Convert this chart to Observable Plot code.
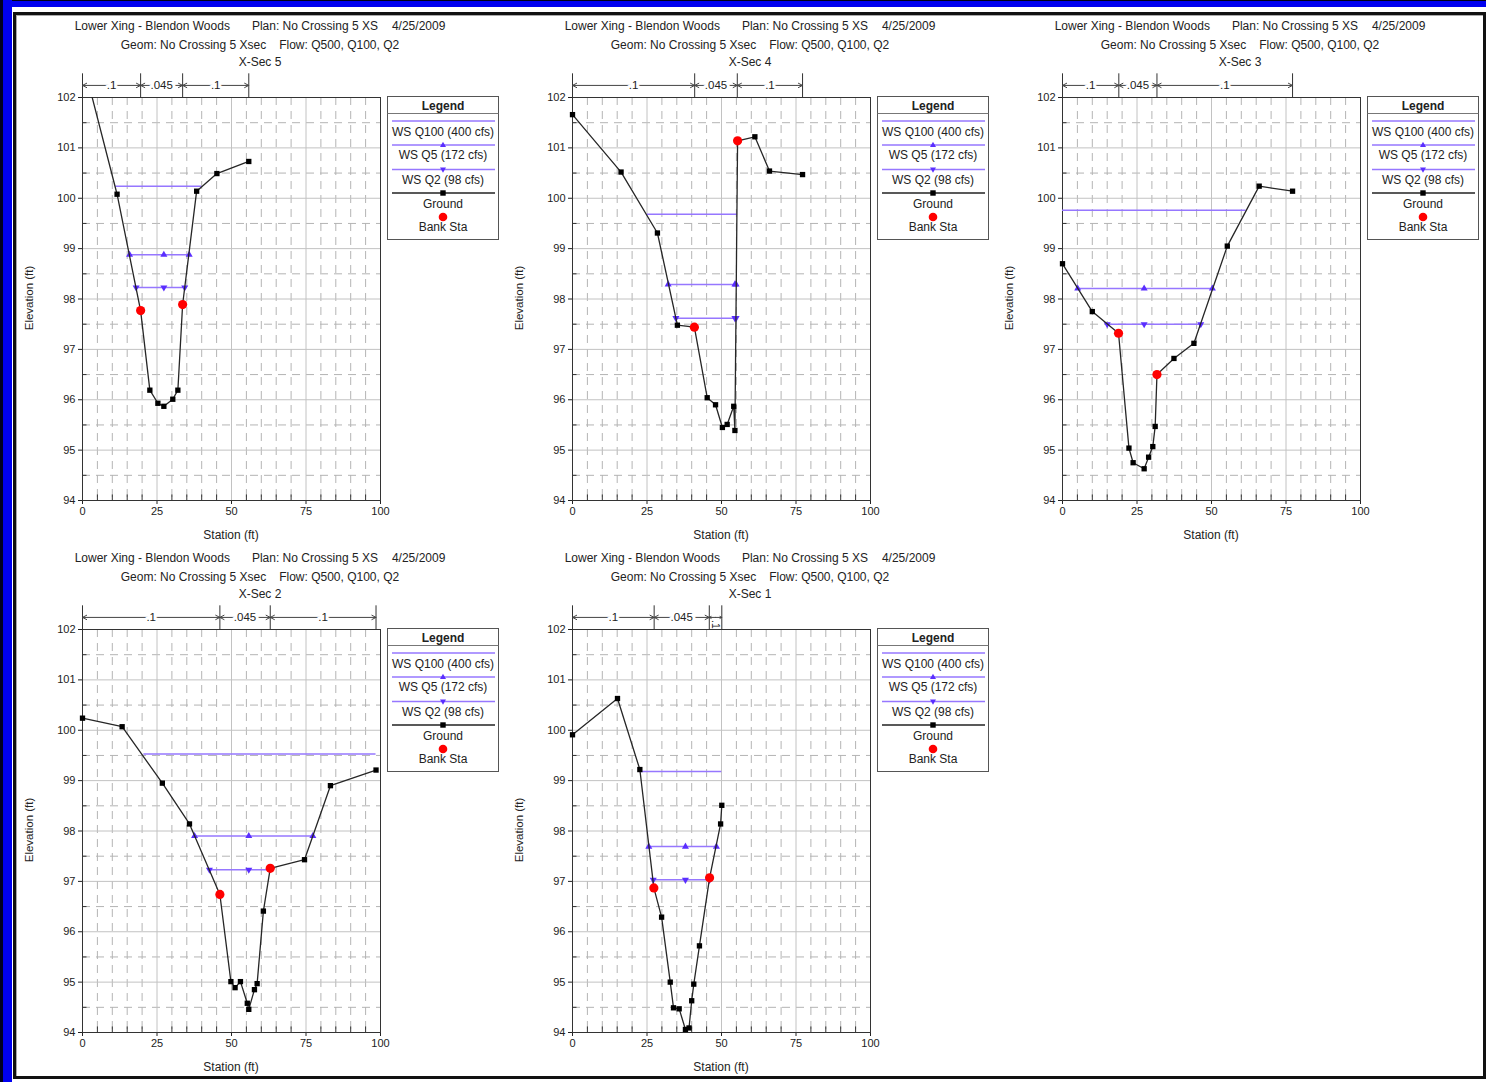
<!DOCTYPE html>
<html><head><meta charset="utf-8">
<script src="https://cdn.jsdelivr.net/npm/d3@7"></script>
<script src="https://cdn.jsdelivr.net/npm/@observablehq/plot@0.6"></script>
<style>
body{margin:0;background:#fff;}
#page{position:relative;width:1486px;height:1082px;overflow:hidden;font-family:"Liberation Sans",Arial,sans-serif;color:#222;background:#fff;}
.t{position:absolute;white-space:nowrap;font-size:12px;transform:translate(-50%,-50%);line-height:1;}
.ax{position:absolute;white-space:nowrap;font-size:12px;transform:translate(-50%,-50%);line-height:1;}
.rot{transform:translate(-50%,-50%) rotate(-90deg);}
.panel{position:absolute;}
</style></head><body><div id="page"></div>
<script>
// ---------- text ----------
const projectTitle = "Lower Xing - Blendon Woods";
const planTitle = "Plan: No Crossing 5 XS";
const dateTitle = "4/25/2009";
const geomTitle = "Geom: No Crossing 5 Xsec";
const flowTitle = "Flow: Q500, Q100, Q2";
const sectionNames = ["X-Sec 5", "X-Sec 4", "X-Sec 3", "X-Sec 2", "X-Sec 1"];
const xLabel = "Station (ft)";
const yLabel = "Elevation (ft)";
const legendTitle = "Legend";
const wsNames = ["WS Q100 (400 cfs)", "WS Q5 (172 cfs)", "WS Q2 (98 cfs)"];
const groundName = "Ground";
const bankName = "Bank Sta";

// ---------- ticks ----------
const xMajor = [0, 25, 50, 75, 100];
const xMinor = [5, 10, 15, 20, 30, 35, 40, 45, 55, 60, 65, 70, 80, 85, 90, 95];
const yMajor = [94, 95, 96, 97, 98, 99, 100, 101, 102];
const yMinor = [94.5, 95.5, 96.5, 97.5, 98.5, 99.5, 100.5, 101.5];

// ---------- X-Sec 5 ----------
const xs5Sta  = [0, 11.6, 19.5, 22.6, 25.3, 27.3, 30.3, 32.0, 33.6, 38.3, 45.1, 55.8];
const xs5Elev = [102.75, 100.08, 97.77, 96.19, 95.93, 95.87, 96.01, 96.19, 97.89, 100.14, 100.49, 100.73];
const xs5BankSta = [19.5, 33.6];
const xs5BankElev = [97.77, 97.89];
const xs5WsElev = [100.24, 98.88, 98.23];
const xs5WsLeft = [11.2, 15.8, 18.0];
const xs5WsRight = [40.0, 35.8, 34.3];
const xs5Thalweg = 27.3;
const xs5NBounds = [0, 19.5, 33.6, 55.8];
const xs5NVals = [".1", ".045", ".1"];

// ---------- X-Sec 4 ----------
const xs4Sta  = [0, 16.3, 28.5, 35.2, 40.9, 45.2, 48.0, 50.3, 51.9, 54.1, 54.5, 55.4, 61.2, 66.1, 77.2];
const xs4Elev = [101.66, 100.52, 99.31, 97.48, 97.44, 96.04, 95.90, 95.45, 95.51, 95.87, 95.39, 101.14, 101.22, 100.54, 100.47];
const xs4BankSta = [40.9, 55.4];
const xs4BankElev = [97.44, 101.14];
const xs4WsElev = [99.68, 98.29, 97.62];
const xs4WsLeft = [25.1, 32.1, 34.7];
const xs4WsRight = [55.4, 54.9, 54.9];
const xs4Thalweg = 54.5;
const xs4NBounds = [0, 41.0, 55.3, 77.2];
const xs4NVals = [".1", ".045", ".1"];

// ---------- X-Sec 3 ----------
const xs3Sta  = [0, 10.0, 18.8, 22.3, 23.7, 27.4, 28.9, 30.3, 31.1, 31.7, 37.4, 44.1, 55.3, 66.0, 77.2];
const xs3Elev = [98.70, 97.75, 97.32, 95.04, 94.75, 94.63, 94.86, 95.07, 95.47, 96.50, 96.82, 97.12, 99.05, 100.24, 100.14];
const xs3BankSta = [18.8, 31.7];
const xs3BankElev = [97.32, 96.50];
const xs3WsElev = [99.76, 98.21, 97.50];
const xs3WsLeft = [0, 5.1, 15.0];
const xs3WsRight = [61.6, 50.3, 46.4];
const xs3Thalweg = 27.4;
const xs3NBounds = [0, 18.9, 31.7, 77.2];
const xs3NVals = [".1", ".045", ".1"];

// ---------- X-Sec 2 ----------
const xs2Sta  = [0, 13.3, 26.8, 35.9, 46.1, 49.8, 51.2, 53.0, 55.3, 55.8, 57.7, 58.6, 60.7, 63.0, 74.5, 83.2, 98.5];
const xs2Elev = [100.24, 100.07, 98.95, 98.14, 96.74, 95.01, 94.89, 95.01, 94.58, 94.46, 94.85, 94.97, 96.41, 97.26, 97.43, 98.90, 99.21];
const xs2BankSta = [46.1, 63.0];
const xs2BankElev = [96.74, 97.26];
const xs2WsElev = [99.53, 97.90, 97.23];
const xs2WsLeft = [20.6, 37.6, 42.6];
const xs2WsRight = [98.5, 77.3, 62.8];
const xs2Thalweg = 55.8;
const xs2NBounds = [0, 46.1, 63.0, 98.5];
const xs2NVals = [".1", ".045", ".1"];

// ---------- X-Sec 1 ----------
const xs1Sta  = [0, 15.1, 22.6, 27.3, 29.9, 32.8, 33.9, 35.8, 37.9, 39.1, 40.0, 40.7, 42.6, 46.0, 49.7, 50.1];
const xs1Elev = [99.91, 100.63, 99.22, 96.87, 96.29, 95.00, 94.49, 94.47, 94.06, 94.09, 94.63, 94.96, 95.72, 97.07, 98.14, 98.51];
const xs1BankSta = [27.3, 46.0];
const xs1BankElev = [96.87, 97.07];
const xs1WsElev = [99.18, 97.69, 97.03];
const xs1WsLeft = [22.6, 25.6, 27.1];
const xs1WsRight = [50.1, 48.3, 46.0];
const xs1Thalweg = 37.9;
const xs1NBounds = [0, 27.4, 45.9, 50.1];
const xs1NVals = [".1", ".045", ".1"];

const sections = [
  {sta: xs5Sta, elev: xs5Elev, bSta: xs5BankSta, bElev: xs5BankElev, wsE: xs5WsElev, wsL: xs5WsLeft, wsR: xs5WsRight, mid: xs5Thalweg, nB: xs5NBounds, nV: xs5NVals},
  {sta: xs4Sta, elev: xs4Elev, bSta: xs4BankSta, bElev: xs4BankElev, wsE: xs4WsElev, wsL: xs4WsLeft, wsR: xs4WsRight, mid: xs4Thalweg, nB: xs4NBounds, nV: xs4NVals},
  {sta: xs3Sta, elev: xs3Elev, bSta: xs3BankSta, bElev: xs3BankElev, wsE: xs3WsElev, wsL: xs3WsLeft, wsR: xs3WsRight, mid: xs3Thalweg, nB: xs3NBounds, nV: xs3NVals},
  {sta: xs2Sta, elev: xs2Elev, bSta: xs2BankSta, bElev: xs2BankElev, wsE: xs2WsElev, wsL: xs2WsLeft, wsR: xs2WsRight, mid: xs2Thalweg, nB: xs2NBounds, nV: xs2NVals},
  {sta: xs1Sta, elev: xs1Elev, bSta: xs1BankSta, bElev: xs1BankElev, wsE: xs1WsElev, wsL: xs1WsLeft, wsR: xs1WsRight, mid: xs1Thalweg, nB: xs1NBounds, nV: xs1NVals}
];

// ---------- layout ----------
const plotLeft = [82, 572, 1062, 82, 572];
const plotTop = [97, 97, 97, 629, 629];
const mL = 62, mR = 10, mT = 27, mB = 50, W = 370, H = 480;
const wsStroke = "#9677ff", wsMarker = "#5a2eff";
const nY = 102.24;

const triDown = {draw(ctx, size) {
  const y = Math.sqrt(size / (3 * Math.sqrt(3)));
  ctx.moveTo(0, y * 2);
  ctx.lineTo(-Math.sqrt(3) * y, -y);
  ctx.lineTo(Math.sqrt(3) * y, -y);
  ctx.closePath();
}};

const page = document.getElementById("page");
function addDiv(cls, x, y, html, extra) {
  const d = document.createElement("div");
  d.className = cls;
  d.style.left = x + "px"; d.style.top = y + "px";
  if (extra) d.style.cssText += extra;
  d.innerHTML = html;
  page.appendChild(d);
  return d;
}

// page frame
addDiv("", 0, 0, "", "position:absolute;width:1486px;height:7px;background:#0000f0;border-top:1px solid #000018;box-sizing:border-box;");
addDiv("", 0, 0, "", "position:absolute;width:12px;height:1082px;background:#0000f0;border-left:3px solid #000022;box-sizing:border-box;");
addDiv("", 13, 12, "", "position:absolute;width:1473px;height:1067px;border:3px solid #111;box-sizing:border-box;box-shadow:inset 1px 1px 0 #aaa;");

sections.forEach((s, k) => {
  const ox = plotLeft[k], oy = plotTop[k];
  const ground = s.sta.map((x, i) => ({x, y: s.elev[i]}));
  const inside = ground.filter(d => d.y <= 102);
  const banks = s.bSta.map((x, i) => ({x, y: s.bElev[i]}));
  const ws = s.wsE.map((y, i) => ({y, x1: s.wsL[i], x2: s.wsR[i]}));
  const q5 = [s.wsL[1], s.mid, s.wsR[1]].map(x => ({x, y: s.wsE[1]}));
  const q2 = [s.wsL[2], s.mid, s.wsR[2]].map(x => ({x, y: s.wsE[2]}));
  const segs = s.nV.map((v, i) => ({x1: s.nB[i], x2: s.nB[i + 1], label: v, m: (s.nB[i] + s.nB[i + 1]) / 2}));
  const wide = segs.filter(d => (d.x2 - d.x1) * 2.98 > 20);
  const narrow = segs.filter(d => (d.x2 - d.x1) * 2.98 <= 20);
  const arrows = segs.flatMap(d => [{from: d.m, to: d.x1}, {from: d.m, to: d.x2}]);

  const chart = Plot.plot({
    width: W, height: H,
    marginLeft: mL, marginRight: mR, marginTop: mT, marginBottom: mB,
    style: {fontFamily: '"Liberation Sans", Arial, sans-serif', fontSize: "11px", color: "#222", background: "transparent", overflow: "visible"},
    x: {domain: [0, 100], ticks: xMajor, tickSize: 4, tickPadding: 3, label: null},
    y: {domain: [94, 102], ticks: yMajor, tickSize: 4, tickPadding: 3, label: null},
    marks: [
      Plot.ruleX(xMinor, {stroke: "#b4b4b4", strokeDasharray: "8,6", strokeWidth: 1}),
      Plot.ruleY(yMinor, {stroke: "#b4b4b4", strokeDasharray: "8,6", strokeWidth: 1}),
      Plot.ruleX(xMajor, {stroke: "#c2c2c2", strokeWidth: 1}),
      Plot.ruleY(yMajor, {stroke: "#c2c2c2", strokeWidth: 1}),
      Plot.ruleX(xMinor, {y1: 94, y2: 94.11, stroke: "#333"}),
      Plot.ruleY(yMinor, {x1: 0, x2: 1.5, stroke: "#333"}),
      Plot.frame({stroke: "#333"}),
      Plot.ruleY(ws, {y: "y", x1: "x1", x2: "x2", stroke: wsStroke, strokeWidth: 1.5}),
      Plot.dot(q5, {x: "x", y: "y", symbol: "triangle", r: 2.6, fill: wsMarker}),
      Plot.dot(q2, {x: "x", y: "y", symbol: triDown, r: 2.6, fill: wsMarker}),
      Plot.line(ground, {x: "x", y: "y", stroke: "#262626", strokeWidth: 1.3, clip: true}),
      Plot.dot(inside, {x: "x", y: "y", symbol: "square", r: 3, fill: "#000"}),
      Plot.dot(banks, {x: "x", y: "y", r: 4.6, fill: "#ff0000"}),
      Plot.ruleX(s.nB, {y1: 102, y2: 102.47, stroke: "#333"}),
      Plot.arrow(arrows, {x1: "from", x2: "to", y1: nY, y2: nY, stroke: "#444", strokeWidth: 1, headLength: 7, headAngle: 55}),
      Plot.text(wide, {x: "m", y: nY, text: "label", fill: "#222", stroke: "white", strokeWidth: 6, fontSize: 11.5}),
      Plot.text(narrow, {x: "m", y: 102.1, text: "label", fill: "#222", fontSize: 10.5, rotate: 90})
    ]
  });
  chart.classList.add("panel");
  chart.style.left = (ox - mL) + "px";
  chart.style.top = (oy - mT) + "px";
  chart.style.position = "absolute";
  page.appendChild(chart);

  // titles
  const cx = ox + 178;
  addDiv("t", cx, oy - 71, `<span>${projectTitle}</span><span style="margin-left:22px">${planTitle}</span><span style="margin-left:14px">${dateTitle}</span>`);
  addDiv("t", cx, oy - 52, `<span>${geomTitle}</span><span style="margin-left:13px">${flowTitle}</span>`);
  addDiv("t", cx, oy - 35, sectionNames[k]);
  // axis labels
  addDiv("ax", ox + 149, oy + 438, xLabel);
  addDiv("ax rot", ox - 52, oy + 201, yLabel, "font-size:11.5px;");

  // legend
  const lg = d3.create("svg").attr("width", 114).attr("height", 146)
    .style("position", "absolute").style("left", (ox + 304) + "px").style("top", (oy - 2) + "px")
    .style("font-family", '"Liberation Sans", Arial, sans-serif').style("font-size", "12px");
  lg.append("rect").attr("x", 1.5).attr("y", 1.5).attr("width", 111).attr("height", 143).attr("fill", "white").attr("stroke", "#555");
  lg.append("text").attr("x", 57).attr("y", 15).attr("text-anchor", "middle").attr("font-weight", "bold").attr("fill", "#222").text(legendTitle);
  lg.append("line").attr("x1", 1.5).attr("x2", 112.5).attr("y1", 18.5).attr("y2", 18.5).attr("stroke", "#777");
  const rows = [
    {ly: 26, ty: 40.5, label: wsNames[0], color: wsStroke, mark: null},
    {ly: 50, ty: 64, label: wsNames[1], color: wsStroke, mark: "up"},
    {ly: 74.5, ty: 88.5, label: wsNames[2], color: wsStroke, mark: "down"},
    {ly: 98, ty: 113, label: groundName, color: "#222", mark: "sq"},
    {ly: null, ty: 136, label: bankName, color: null, mark: "dot"}
  ];
  rows.forEach(r => {
    if (r.ly != null) lg.append("line").attr("x1", 6).attr("x2", 109).attr("y1", r.ly).attr("y2", r.ly).attr("stroke", r.color).attr("stroke-width", 1.4);
    if (r.mark === "up") lg.append("path").attr("d", `M57,${r.ly - 3.2}L60,${r.ly + 2}L54,${r.ly + 2}Z`).attr("fill", wsMarker);
    if (r.mark === "down") lg.append("path").attr("d", `M57,${r.ly + 3.2}L60,${r.ly - 2}L54,${r.ly - 2}Z`).attr("fill", wsMarker);
    if (r.mark === "sq") lg.append("rect").attr("x", 54.3).attr("y", r.ly - 2.7).attr("width", 5.4).attr("height", 5.4).attr("fill", "#000");
    if (r.mark === "dot") lg.append("circle").attr("cx", 57).attr("cy", 122).attr("r", 4.3).attr("fill", "#ff0000");
    lg.append("text").attr("x", 57).attr("y", r.ty).attr("text-anchor", "middle").attr("fill", "#222").text(r.label);
  });
  page.appendChild(lg.node());
});
</script></body></html>
